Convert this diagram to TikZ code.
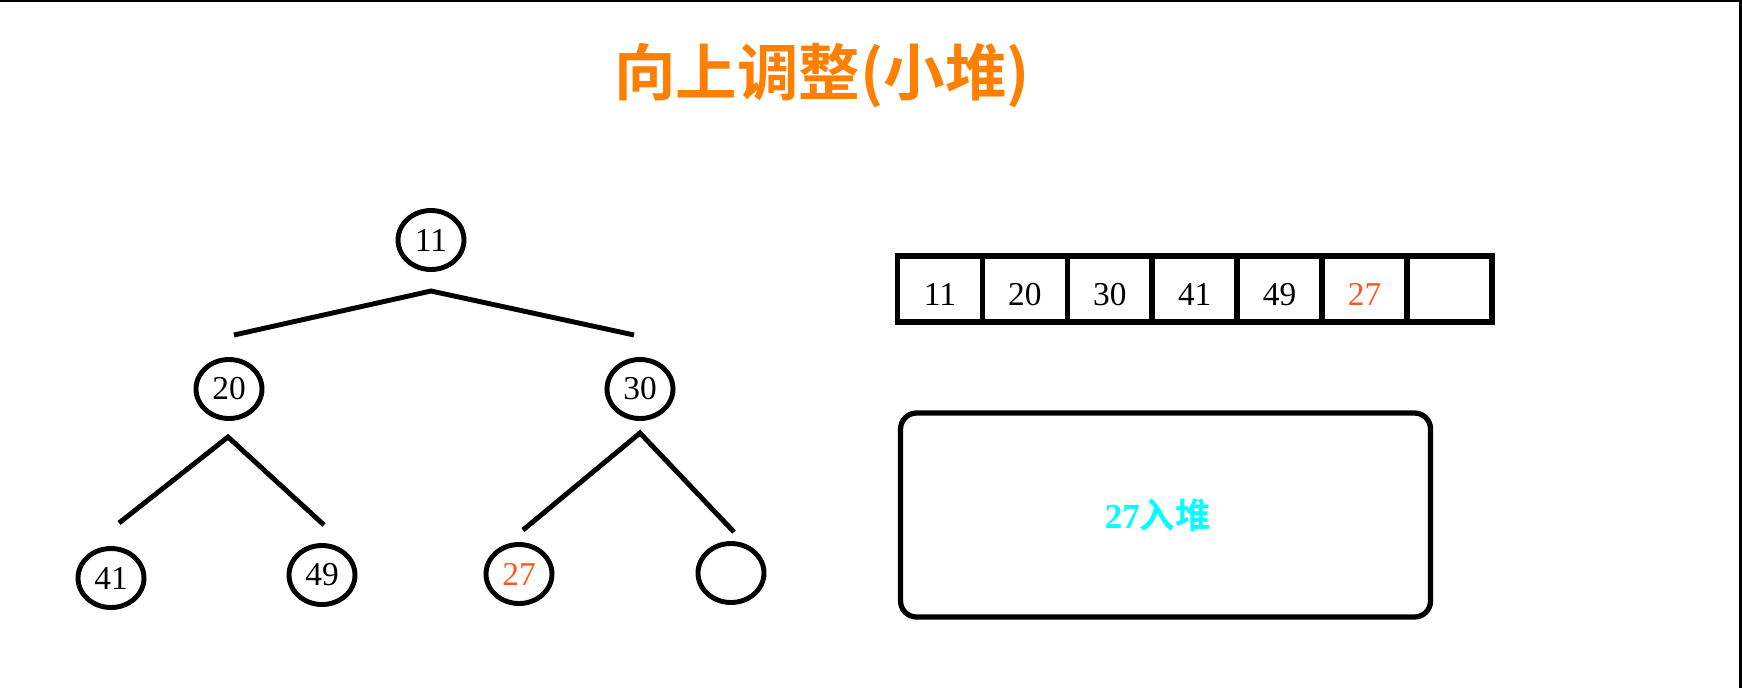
\documentclass[tikz,border=0pt]{standalone}
\usepackage{fontspec}
\setmainfont{Liberation Serif}
\newfontfamily\cjk{Noto Sans CJK SC}[BoldFont={Noto Sans CJK SC Bold}]
\usepackage{tikz}
\usetikzlibrary{shapes.geometric, positioning, calc}
\definecolor{titleorange}{RGB}{255, 128, 0}
\definecolor{newred}{RGB}{255, 87, 34}
\definecolor{msgcyan}{RGB}{0, 255, 255}
\tikzset{
    hnode/.style={ellipse, draw, line width=1.4pt, minimum width=6.6mm,
                  minimum height=5.9mm, inner sep=0pt,
                  font=\fontsize{9.5}{10}\selectfont},
    cell/.style={rectangle, draw, line width=1.6pt, minimum width=8.49mm,
                 minimum height=6.6mm, inner sep=0pt, outer sep=0pt,
                 text height=3.2mm, text depth=0mm,
                 font=\fontsize{9.5}{10}\selectfont},
    note/.style={rectangle, draw, rounded corners=1.6mm, line width=1.5pt,
                 minimum width=53mm, minimum height=20.4mm, outer sep=0pt,
                 text=msgcyan, font=\fontsize{10}{11}\selectfont\bfseries},
    ln/.style={line width=1.4pt},
}
\begin{document}
\begin{tikzpicture}[x=0.1mm, y=0.1mm]
    \useasboundingbox (0,0) rectangle (1742,688);
    \draw[line width=0.6pt] (0,687) -- (1740.5,687) -- (1740.5,0);

    % Title
    \node[text=titleorange, font=\fontsize{17.5}{20}\selectfont\cjk\bfseries] (title) at (822,612) {向上调整(小堆)};

    % Heap as tree
    \node[hnode] (n11) at (431,448) {11};
    \node[hnode, on grid, below left=14.9mm and 20.2mm of n11] (n20) {20};
    \node[hnode, on grid, below right=14.9mm and 20.9mm of n11] (n30) {30};
    \node[hnode, on grid, below left=18.9mm and 11.8mm of n20] (n41) {41};
    \node[hnode, on grid, below right=18.6mm and 9.3mm of n20] (n49) {49};
    \node[hnode, on grid, below left=18.5mm and 12.1mm of n30, text=newred] (n27) {27};
    \node[hnode, on grid, below right=18.4mm and 9.1mm of n30] (nE) {};

    \coordinate (a11) at ($(n11)+(0,-51)$);
    \coordinate (l20) at ($(n20)+(5,54)$);
    \coordinate (r30) at ($(n30)+(-6,54)$);
    \coordinate (a20) at ($(n20)+(-1,-48)$);
    \coordinate (l41) at ($(n41)+(8,55)$);
    \coordinate (r49) at ($(n49)+(2,50)$);
    \coordinate (a30) at ($(n30)+(0,-44)$);
    \coordinate (l27) at ($(n27)+(4,44)$);
    \coordinate (rE) at ($(nE)+(3,41)$);

    \draw[ln] (l20) -- (a11) -- (r30);
    \draw[ln] (l41) -- (a20) -- (r49);
    \draw[ln] (l27) -- (a30) -- (rE);

    % Heap as array
    \node[cell] (c1) at (940,399) {11};
    \node[cell, right=0mm of c1] (c2) {20};
    \node[cell, right=0mm of c2] (c3) {30};
    \node[cell, right=0mm of c3] (c4) {41};
    \node[cell, right=0mm of c4] (c5) {49};
    \node[cell, right=0mm of c5, text=newred] (c6) {27};
    \node[cell, right=0mm of c6] (c7) {};

    % Step note
    \node[note, below right=9.1mm and 0.3mm of c1.south west] (msg) {27{\cjk 入堆}\hspace*{1.6mm}};
\end{tikzpicture}
\end{document}
